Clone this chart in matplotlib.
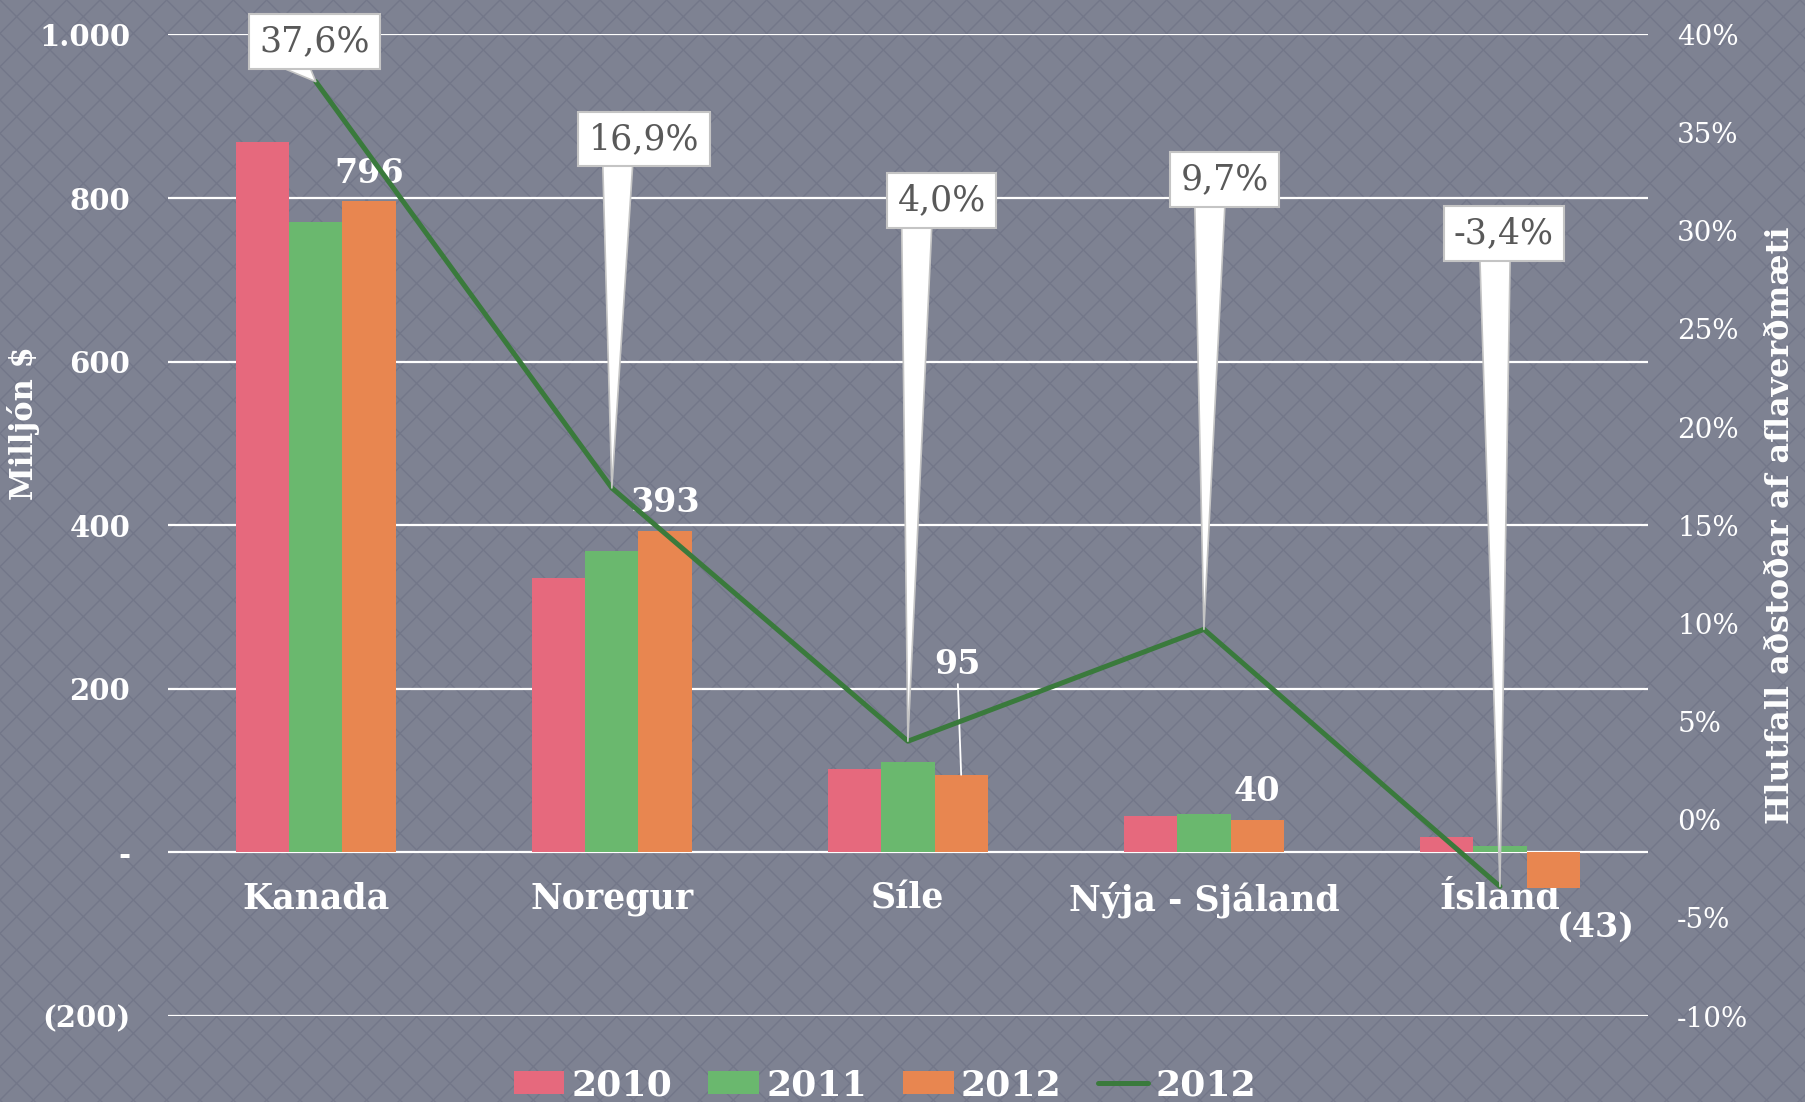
import matplotlib
matplotlib.use('Agg')
import matplotlib.pyplot as plt
from matplotlib.patches import Rectangle
from matplotlib.ticker import FuncFormatter, MultipleLocator

plt.rcParams['font.family'] = 'DejaVu Serif'
plt.rcParams['hatch.linewidth'] = 1.0

# data
countries = ['Kanada', 'Noregur', 'Síle', 'Nýja - Sjáland', 'Ísland']
years = ['2010', '2011', '2012']
aid_2010 = [869, 335, 102, 45, 19]
aid_2011 = [771, 369, 111, 47, 8]
aid_2012 = [796, 393, 95, 40, -43]
share_2012 = [37.6, 16.9, 4.0, 9.7, -3.4]
share_labels = ['37,6%', '16,9%', '4,0%', '9,7%', '-3,4%']

bg = '#7e8292'
bar_colors = ['#e6697d', '#6ab86e', '#e88650']
line_color = '#3a7a3c'

fig = plt.figure(figsize=(18.06, 11.02), dpi=100)
fig.patch.set_facecolor(bg)
# textured background
fig.patches.append(Rectangle((0, 0), 1, 1, transform=fig.transFigure, facecolor=bg,
                             hatch='x', edgecolor='#737789', lw=0, zorder=-10))
ax = fig.add_axes([0.0929, 0.078, 0.8196, 0.8907])
ax.set_facecolor('none')

x = list(range(len(countries)))
w = 0.18
bars = []
for k, (vals, col, yr) in enumerate(zip([aid_2010, aid_2011, aid_2012], bar_colors, years)):
    b = ax.bar([i + (k - 1) * w for i in x], vals, width=w, color=col, label=yr, zorder=2)
    bars.append(b)

ax.set_xlim(-0.5, 4.5)
ax.set_ylim(-200, 1000)
ax.yaxis.set_major_locator(MultipleLocator(200))


def left_fmt(v, pos):
    v = int(round(v))
    if v == 0:
        return '-'
    if v < 0:
        return '({:,})'.format(-v).replace(',', '.')
    return '{:,}'.format(v).replace(',', '.')


ax.yaxis.set_major_formatter(FuncFormatter(left_fmt))
ax.yaxis.grid(True, color='white', lw=1.6)
ax.set_axisbelow(True)
for s in ax.spines.values():
    s.set_visible(False)
ax.spines['bottom'].set_position(('data', 0))
ax.set_xticks(x)
ax.set_xticklabels(countries, fontsize=25, fontweight='bold', color='white')
ax.tick_params(axis='x', length=0, pad=21)
ax.tick_params(axis='y', length=0, pad=27, labelsize=21, labelcolor='white')
for t in ax.get_yticklabels():
    t.set_fontweight('bold')

# data labels for 2012 bars
for i, v in enumerate(aid_2012):
    xb = i + w
    txt = '({})'.format(-v) if v < 0 else str(v)
    if i == 2:
        ax.annotate(txt, xy=(xb, v), xytext=(-4, 110), textcoords='offset pixels',
                    ha='center', va='center', fontsize=24, fontweight='bold', color='white',
                    arrowprops=dict(arrowstyle='-', color='white', lw=1.3, shrinkA=0, shrinkB=0),
                    zorder=3)
    elif v < 0:
        ax.annotate(txt, xy=(xb, v), xytext=(43, -40), textcoords='offset pixels',
                    ha='center', va='center', fontsize=24, fontweight='bold', color='white')
    else:
        ax.annotate(txt, xy=(xb, v), xytext=(0, 28), textcoords='offset pixels',
                    ha='center', va='center', fontsize=24, fontweight='bold', color='white')

fig.text(24 / 1806, 1 - 423 / 1102, 'Milljón $', rotation=90, ha='center', va='center',
         fontsize=22, fontweight='bold', color='white')

# share of catch value on the right axis
ax2 = ax.twinx()
ax2.set_ylim(-10, 40)
ax2.yaxis.set_major_locator(MultipleLocator(5))
ax2.yaxis.set_major_formatter(FuncFormatter(lambda v, p: '{:d}%'.format(int(round(v)))))
ax2.tick_params(axis='y', length=0, pad=21, labelsize=20, labelcolor='white')
for s in ax2.spines.values():
    s.set_visible(False)
line, = ax2.plot(x, share_2012, color=line_color, lw=3.6, label='2012', zorder=3,
                 solid_capstyle='round')
ax2.set_ylabel('Hlutfall aðstoðar af aflaverðmæti', fontsize=23, fontweight='bold',
               color='white', labelpad=12)

# callouts: box offset and pointer start, in pixels from the point
box_off = [(-1, 40), (32, 349), (34, 541), (21, 450), (4, 653)]
tail_off = [(-26, 26), (6, 330), (9, 523), (6, 430), (-5, 635)]
for i, (v, lab) in enumerate(zip(share_2012, share_labels)):
    ax2.annotate('', xy=(i, v), xytext=tail_off[i], textcoords='offset pixels',
                 arrowprops=dict(arrowstyle='wedge,tail_width=1.1,shrink_factor=0.5',
                                 fc='white', ec='#c4c4c4', lw=1.2, mutation_scale=20,
                                 shrinkA=0, shrinkB=0),
                 zorder=5)
    ax2.annotate(lab, xy=(i, v), xytext=box_off[i], textcoords='offset pixels',
                 ha='center', va='center', fontsize=25, color='#595959',
                 bbox=dict(boxstyle='square,pad=0.3', fc='white', ec='#c4c4c4', lw=1.5),
                 zorder=6)

handles = bars + [line]
leg = fig.legend(handles, years + ['2012'], loc='center', bbox_to_anchor=(885 / 1806, 1 - 1085 / 1102),
                 ncol=4, frameon=False, handlelength=1.4, handleheight=0.6, handletextpad=0.2,
                 columnspacing=1.0, prop={'size': 26, 'weight': 'bold'})
for t in leg.get_texts():
    t.set_color('white')

fig.savefig('out.png', dpi=100, facecolor=fig.get_facecolor())
